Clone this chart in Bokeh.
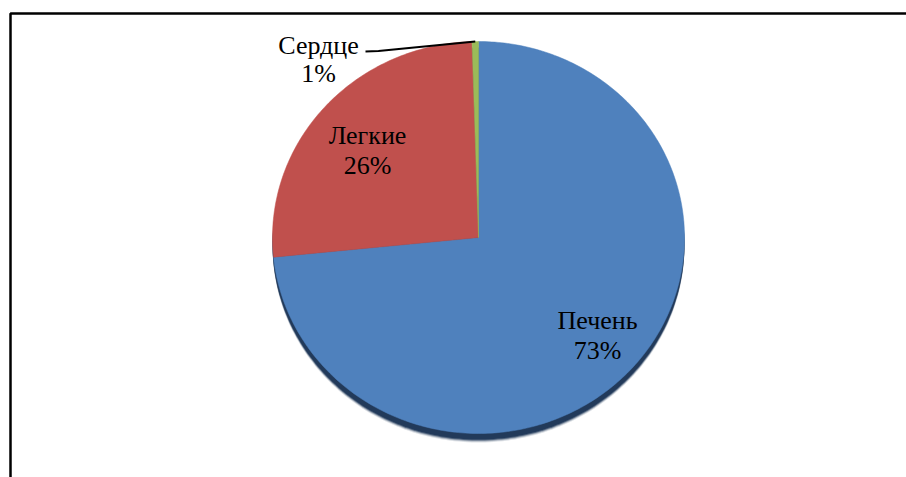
import numpy as np
from bokeh.plotting import figure
from bokeh.models import Range1d
from bokeh.core.properties import value
from bokeh.embed import file_html
from bokeh.resources import INLINE

# ---- data ----
categories = ["Печень", "Легкие", "Сердце"]
shares = [73.4, 26.1, 0.5]
pct_labels = ["73%", "26%", "1%"]
colors = ["#4F81BD", "#C0504D", "#9BBB59"]

# ---- layout (pixel-like data space) ----
W, H = 906, 477
cx, cy = 478, 237
rx, ry = 206, 196

p = figure(width=W, height=H, output_backend="svg", toolbar_location=None,
           x_range=Range1d(0, W), y_range=Range1d(H, 0),
           min_border=0, outline_line_color=None, background_fill_color="white",
           border_fill_color="white")
p.axis.visible = False
p.grid.visible = False

def ellipse_pts(t0, t1, n=200, dx=0.0, dy=0.0):
    t = np.linspace(t0, t1, n)
    xs = cx + dx + rx * np.sin(t)
    ys = cy + dy - ry * np.cos(t)
    return xs, ys

# shadow (soft, offset downward)
for off, alpha in [(9, 0.15), (8, 0.3), (7, 0.6), (6, 0.9)]:
    xs, ys = ellipse_pts(0, 2 * np.pi, 300, dy=off)
    p.patch(list(xs), list(ys), fill_color="#1d3557", fill_alpha=alpha, line_color=None)

# slices, clockwise from 12 o'clock
total = float(sum(shares))
fr = np.array(shares) / total
ends = np.cumsum(fr) * 2 * np.pi
starts = ends - fr * 2 * np.pi
pxs, pys = [], []
for s, e in zip(starts, ends):
    n = max(int((e - s) / (2 * np.pi) * 400), 4)
    xs, ys = ellipse_pts(s, e, n)
    pxs.append([cx] + list(xs) + [cx])
    pys.append([cy] + list(ys) + [cy])
p.patches(pxs, pys, fill_color=colors, line_color=colors, line_width=0.5)

# label anchor points (name line, percent line)
lab_x = [597, 367, 318]
lab_y = [335, 150, 59]
gap = [15, 15, 14]
names_y = [y - g for y, g in zip(lab_y, gap)]
pct_y = [y + g for y, g in zip(lab_y, gap)]

p.text(x=lab_x, y=names_y, text=categories, text_font=value("Liberation Serif"),
       text_font_size="26px", text_align="center", text_baseline="middle", text_color="black")
p.text(x=lab_x, y=pct_y, text=pct_labels, text_font=value("Liberation Serif"),
       text_font_size="26px", text_align="center", text_baseline="middle", text_color="black")

# leader line for small slice
mid = (starts[2] + ends[2]) / 2
tx, ty = cx + rx * np.sin(mid), cy - ry * np.cos(mid)
p.line([365, 378, tx], [51, 50.5, ty], line_color="black", line_width=2)

# frame (top and left edges)
p.line([10, 10, W], [H, 13, 13], line_color="black", line_width=2.5)

open("out.html", "w").write(file_html(p, INLINE))
